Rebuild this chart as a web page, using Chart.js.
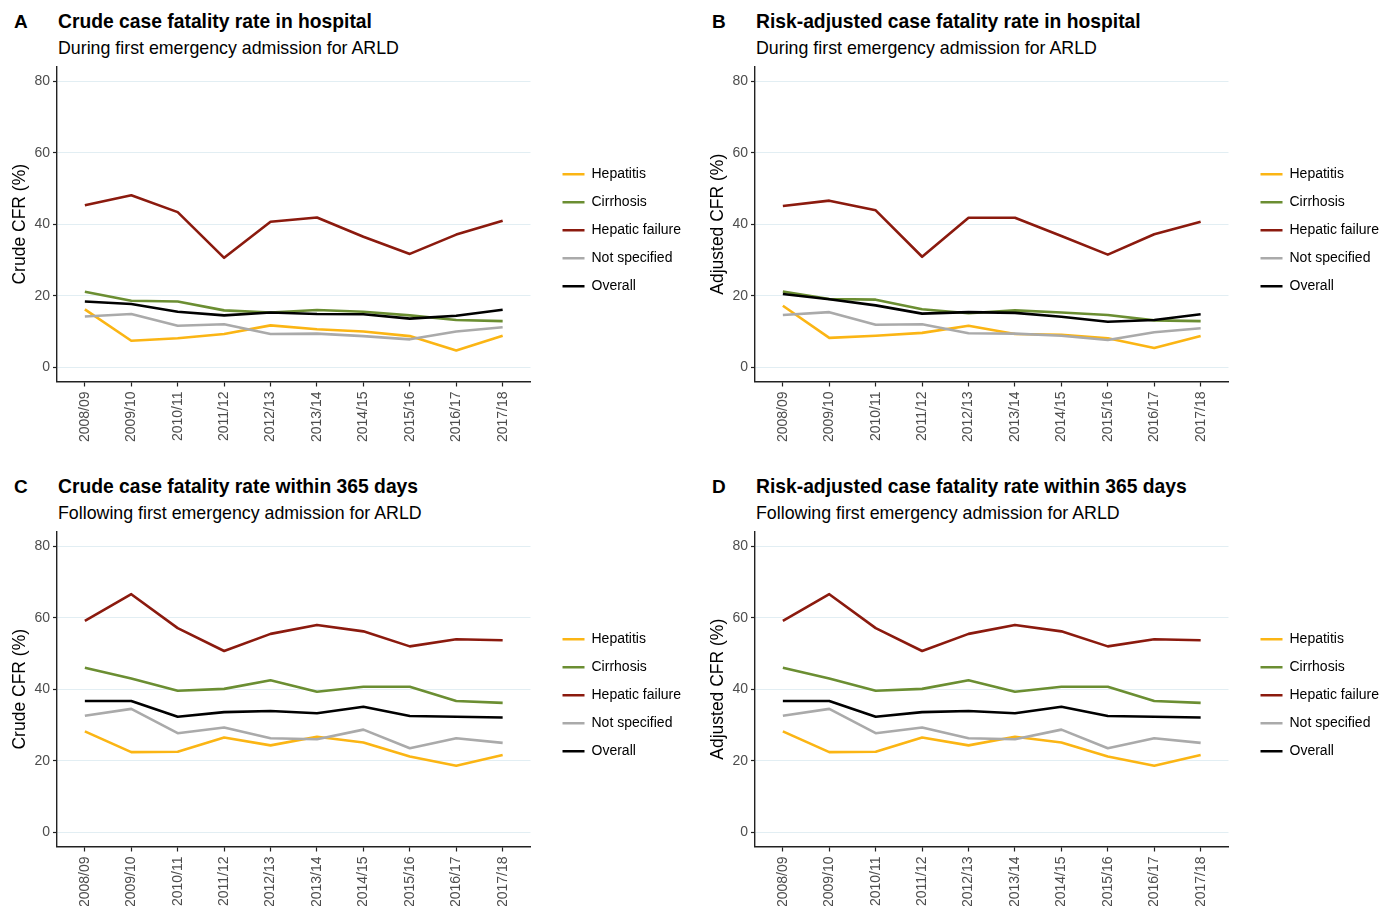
<!DOCTYPE html>
<html>
<head>
<meta charset="utf-8">
<script src="https://cdn.jsdelivr.net/npm/chart.js@4"></script>
<style>
  body { margin: 0; background: #fff; font-family: "Liberation Sans", Arial, sans-serif; overflow: hidden; }
  .panel { position: absolute; width: 698px; height: 465px; }
  .letter { position: absolute; left: 14px; top: 11px; font-weight: bold; font-size: 19px; color: #000; }
  .title { position: absolute; left: 58px; top: 11px; font-weight: bold; font-size: 19.3px; color: #000; white-space: nowrap; }
  .subtitle { position: absolute; left: 58px; top: 38px; font-size: 17.8px; color: #000; white-space: nowrap; }
  .chart { position: absolute; left: 0; top: 60px; width: 698px; height: 395px; }
</style>
</head>
<body>
<div id="root"></div>
<script>
const years = ["2008/09", "2009/10", "2010/11", "2011/12", "2012/13", "2013/14", "2014/15", "2015/16", "2016/17", "2017/18"];
const seriesNames = ["Hepatitis", "Cirrhosis", "Hepatic failure", "Not specified", "Overall"];
const seriesColors = ["#fbb514", "#6b8e32", "#8b1a0e", "#aaaaaa", "#000000"];
const yTicks = [0, 20, 40, 60, 80];

// A: crude, in hospital
const hepatitisA = [16.2, 7.4, 8.1, 9.3, 11.7, 10.6, 10.0, 8.7, 4.7, 8.8];
const cirrhosisA = [21.1, 18.6, 18.4, 15.9, 15.3, 16.0, 15.5, 14.5, 13.2, 12.9];
const failureA = [45.3, 48.1, 43.4, 30.6, 40.7, 41.9, 36.5, 31.7, 37.1, 41.0];
const unspecA = [14.2, 14.9, 11.6, 12.0, 9.3, 9.4, 8.7, 7.8, 10.0, 11.2];
const overallA = [18.4, 17.7, 15.5, 14.5, 15.3, 14.9, 14.8, 13.6, 14.4, 16.1];

// B: risk-adjusted, in hospital
const hepatitisB = [17.2, 8.2, 8.8, 9.6, 11.6, 9.3, 9.1, 8.1, 5.4, 8.7];
const cirrhosisB = [21.2, 19.1, 18.9, 16.2, 15.1, 15.9, 15.3, 14.6, 13.1, 12.9];
const failureB = [45.1, 46.6, 43.9, 30.9, 41.8, 41.8, 36.7, 31.5, 37.2, 40.7];
const unspecB = [14.6, 15.4, 11.9, 12.0, 9.5, 9.4, 8.8, 7.6, 9.8, 10.9];
const overallB = [20.5, 19.0, 17.3, 15.0, 15.4, 15.2, 14.1, 12.7, 13.2, 14.8];

// C: crude, within 365 days
const hepatitisC = [28.2, 22.4, 22.5, 26.5, 24.3, 26.7, 25.1, 21.2, 18.6, 21.6];
const cirrhosisC = [46.0, 43.0, 39.6, 40.1, 42.5, 39.3, 40.7, 40.7, 36.7, 36.2];
const failureC = [59.1, 66.6, 57.1, 50.7, 55.5, 58.0, 56.2, 52.0, 54.0, 53.7];
const unspecC = [32.6, 34.5, 27.7, 29.3, 26.3, 26.0, 28.7, 23.5, 26.3, 25.0];
const overallC = [36.7, 36.7, 32.3, 33.6, 33.9, 33.3, 35.1, 32.5, 32.3, 32.1];

// D: risk-adjusted, within 365 days
const hepatitisD = [28.2, 22.4, 22.5, 26.5, 24.3, 26.7, 25.1, 21.2, 18.6, 21.6];
const cirrhosisD = [46.0, 43.0, 39.6, 40.1, 42.5, 39.3, 40.7, 40.7, 36.7, 36.2];
const failureD = [59.1, 66.6, 57.1, 50.7, 55.5, 58.0, 56.2, 52.0, 54.0, 53.7];
const unspecD = [32.6, 34.5, 27.7, 29.3, 26.3, 26.0, 28.7, 23.5, 26.3, 25.0];
const overallD = [36.7, 36.7, 32.3, 33.6, 33.9, 33.3, 35.1, 32.5, 32.3, 32.1];

const panels = [
  { letter: "A", title: "Crude case fatality rate in hospital", subtitle: "During first emergency admission for ARLD",
    yTitle: "Crude CFR (%)", left: 0, top: 0, series: [hepatitisA, cirrhosisA, failureA, unspecA, overallA] },
  { letter: "B", title: "Risk-adjusted case fatality rate in hospital", subtitle: "During first emergency admission for ARLD",
    yTitle: "Adjusted CFR (%)", left: 698, top: 0, series: [hepatitisB, cirrhosisB, failureB, unspecB, overallB] },
  { letter: "C", title: "Crude case fatality rate within 365 days", subtitle: "Following first emergency admission for ARLD",
    yTitle: "Crude CFR (%)", left: 0, top: 465, series: [hepatitisC, cirrhosisC, failureC, unspecC, overallC] },
  { letter: "D", title: "Risk-adjusted case fatality rate within 365 days", subtitle: "Following first emergency admission for ARLD",
    yTitle: "Adjusted CFR (%)", left: 698, top: 465, series: [hepatitisD, cirrhosisD, failureD, unspecD, overallD] },
];

// move the legend a bit right/down of where the layout puts it
const legendShift = {
  id: "legendShift",
  afterLayout(chart) {
    const lg = chart.legend;
    if (!lg) return;
    lg.left += 18; lg.right += 18;
    lg.top += 6; lg.bottom += 6;
  }
};

function makeChart(el, panel) {
  const datasets = panel.series.map((vals, i) => ({
    label: seriesNames[i],
    data: vals.map((v, j) => ({ x: j, y: v })),
    borderColor: seriesColors[i],
    backgroundColor: seriesColors[i],
    borderWidth: 2.6,
    pointRadius: 0,
    tension: 0,
    fill: false,
    borderJoinStyle: "round",
    order: seriesNames.length - i, // overall on top, like ggplot
  }));

  new Chart(el.getContext("2d"), {
    type: "line",
    data: { datasets },
    plugins: [legendShift],
    options: {
      responsive: true,
      maintainAspectRatio: false,
      animation: false,
      layout: { padding: { top: 7, right: 25, bottom: 0, left: 0 } },
      plugins: {
        tooltip: { enabled: false },
        legend: {
          position: "right",
          align: "center",
          fullSize: false,
          labels: {
            usePointStyle: true,
            pointStyle: "line",
            pointStyleWidth: 22,
            padding: 14,
            color: "#000",
            font: { family: "Liberation Sans", size: 14 },
            sort: (a, b) => a.datasetIndex - b.datasetIndex,
          },
        },
      },
      scales: {
        x: {
          type: "linear",
          min: -0.6,
          max: 9.6,
          afterBuildTicks: (s) => { s.ticks = years.map((_, i) => ({ value: i })); },
          afterFit: (s) => { s.height = 73.5; s.paddingLeft = 0; s.paddingRight = 0; },
          ticks: {
            autoSkip: false,
            minRotation: 90,
            maxRotation: 90,
            padding: 5,
            color: "#4d4d4d",
            font: { family: "Liberation Sans", size: 14 },
            callback: (v) => years[Math.round(v)],
          },
          grid: { drawOnChartArea: false, drawTicks: true, tickLength: 5, tickColor: "#222", tickWidth: 1.2 },
          border: { display: true, color: "#222", width: 1.4 },
        },
        y: {
          min: -4,
          max: 84,
          afterBuildTicks: (s) => { s.ticks = yTicks.map((v) => ({ value: v })); },
          afterFit: (s) => { s.width = 57; s.paddingTop = 0; s.paddingBottom = 0; },
          ticks: {
            padding: 3,
            color: "#4d4d4d",
            font: { family: "Liberation Sans", size: 14 },
          },
          grid: { color: "#e2eef3", lineWidth: 1, drawTicks: true, tickLength: 4, tickColor: "#222", tickWidth: 1.2 },
          border: { display: true, color: "#222", width: 1.4 },
          title: {
            display: true,
            text: panel.yTitle,
            color: "#000",
            font: { family: "Liberation Sans", size: 17.5 },
            padding: { top: 10, bottom: 0 },
          },
        },
      },
    },
  });
}

const root = document.getElementById("root");
panels.forEach((p) => {
  const div = document.createElement("div");
  div.className = "panel";
  div.style.left = p.left + "px";
  div.style.top = p.top + "px";
  div.innerHTML =
    '<div class="letter">' + p.letter + '</div>' +
    '<div class="title">' + p.title + '</div>' +
    '<div class="subtitle">' + p.subtitle + '</div>' +
    '<div class="chart"><canvas></canvas></div>';
  root.appendChild(div);
  makeChart(div.querySelector("canvas"), p);
});
</script>
</body>
</html>
